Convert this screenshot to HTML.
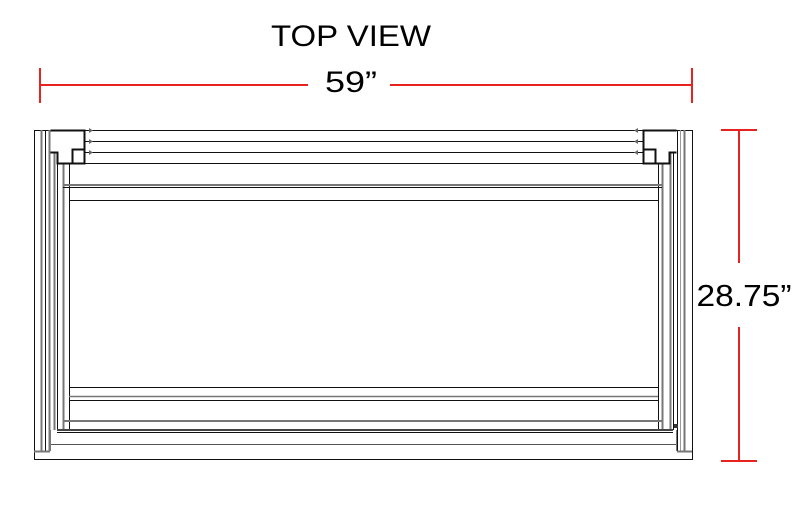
<!DOCTYPE html>
<html><head><style>
html,body{margin:0;padding:0;background:#fff;}
svg{display:block;}
text{font-family:"Liberation Sans",sans-serif;fill:#000;}
</style></head><body>
<svg width="806" height="519" viewBox="0 0 806 519" xmlns="http://www.w3.org/2000/svg">
<text x="351" y="46" font-size="30" text-anchor="middle" textLength="160" lengthAdjust="spacingAndGlyphs">TOP VIEW</text>
<text x="351" y="92" font-size="30" text-anchor="middle" textLength="52" lengthAdjust="spacingAndGlyphs">59”</text>
<text x="744" y="306" font-size="31" text-anchor="middle" textLength="95" lengthAdjust="spacingAndGlyphs">28.75”</text>
<g stroke="#e8221f" stroke-width="2" fill="none">
<line x1="40" y1="85" x2="308" y2="85"/><line x1="390" y1="85" x2="692" y2="85"/>
<line x1="40" y1="68" x2="40" y2="103"/><line x1="692" y1="68" x2="692" y2="103"/>
<line x1="739" y1="130" x2="739" y2="263"/><line x1="739" y1="327" x2="739" y2="461"/>
<line x1="721" y1="130" x2="757" y2="130"/><line x1="721" y1="461" x2="757" y2="461"/>
</g>
<g fill="none" stroke="#111" stroke-width="1">
<!-- outer -->
<rect x="34.5" y="130.5" width="658" height="329"/>
<line x1="34.5" y1="451.5" x2="692.5" y2="451.5" stroke="#fff" stroke-width="0"/>
<!-- left posts -->
<line x1="41.5" y1="130" x2="41.5" y2="451" stroke="#777" stroke-width="2"/>
<line x1="45.5" y1="130" x2="45.5" y2="451"/>
<line x1="49.5" y1="130" x2="49.5" y2="451" stroke="#777" stroke-width="2"/>
<line x1="34" y1="451.5" x2="50" y2="451.5" stroke="#777" stroke-width="2"/>
<line x1="54.5" y1="152" x2="54.5" y2="430" stroke="#777" stroke-width="2"/>
<line x1="57.5" y1="152" x2="57.5" y2="430"/>
<line x1="63.5" y1="163" x2="63.5" y2="430" stroke="#777" stroke-width="2"/>
<line x1="69.5" y1="163" x2="69.5" y2="430"/>
<!-- right posts -->
<line x1="684.5" y1="130" x2="684.5" y2="451" stroke="#777" stroke-width="2"/>
<line x1="677.5" y1="130" x2="677.5" y2="451"/>
<line x1="680.5" y1="130" x2="680.5" y2="451" stroke="#999" stroke-width="1"/>
<line x1="677" y1="451.5" x2="692" y2="451.5" stroke="#777" stroke-width="2"/>
<line x1="670.5" y1="152" x2="670.5" y2="430" stroke="#777" stroke-width="2"/>
<line x1="673.5" y1="152" x2="673.5" y2="430"/>
<line x1="662.5" y1="163" x2="662.5" y2="430" stroke="#777" stroke-width="2"/>
<line x1="658.5" y1="163" x2="658.5" y2="430"/>
<!-- top rails -->
<line x1="84" y1="141.5" x2="643" y2="141.5"/>
<line x1="84" y1="152.5" x2="643" y2="152.5"/>
<line x1="84" y1="163.5" x2="643" y2="163.5"/>
<!-- left bracket -->
<path d="M50.5 130.5 H84.5 V163.5 H57.5 V152.5 H50.5" stroke-width="2"/>
<rect x="72.5" y="149.5" width="12" height="14" stroke-width="2"/>
<!-- right bracket -->
<path d="M676.5 130.5 H643.5 V163.5 H669.5 V152.5 H676.5" stroke-width="2"/>
<rect x="643.5" y="149.5" width="12" height="14" stroke-width="2"/>
<!-- tabs -->
<g stroke-width="1">
<line x1="84" y1="130.5" x2="90" y2="130.5"/><line x1="84" y1="141.5" x2="90" y2="141.5"/><line x1="84" y1="152.5" x2="90" y2="152.5"/>
<line x1="637" y1="130.5" x2="643" y2="130.5"/><line x1="637" y1="141.5" x2="643" y2="141.5"/><line x1="637" y1="152.5" x2="643" y2="152.5"/>
</g>
<g fill="#666" stroke="none">
<path d="M89 128 L93 130.5 L89 133Z"/><path d="M89 139 L93 141.5 L89 144Z"/><path d="M89 150 L93 152.5 L89 155Z"/>
<path d="M638 128 L634 130.5 L638 133Z"/><path d="M638 139 L634 141.5 L638 144Z"/><path d="M638 150 L634 152.5 L638 155Z"/>
</g>
<!-- inner horizontal -->
<line x1="63" y1="185" x2="662" y2="185" stroke="#777" stroke-width="2"/>
<line x1="63" y1="187.5" x2="662" y2="187.5"/>
<line x1="69" y1="200.5" x2="658" y2="200.5"/>
<line x1="69" y1="387.5" x2="658" y2="387.5"/>
<line x1="69" y1="396.5" x2="658" y2="396.5" stroke="#777" stroke-width="1.5"/>
<line x1="69" y1="400.5" x2="658" y2="400.5"/>
<line x1="63" y1="421" x2="662" y2="421" stroke="#777" stroke-width="2"/>
<line x1="57" y1="430" x2="673" y2="430" stroke="#444" stroke-width="2"/>
<line x1="57" y1="432.5" x2="673" y2="432.5"/>
<line x1="50" y1="444.5" x2="677" y2="444.5" stroke="#555"/>
<line x1="50.5" y1="430" x2="50.5" y2="451" stroke="#777"/>
<line x1="676.5" y1="430" x2="676.5" y2="451" stroke="#777"/>
<rect x="674" y="424" width="4" height="4" fill="#333" stroke="none"/>
</g>
</svg>
</body></html>
